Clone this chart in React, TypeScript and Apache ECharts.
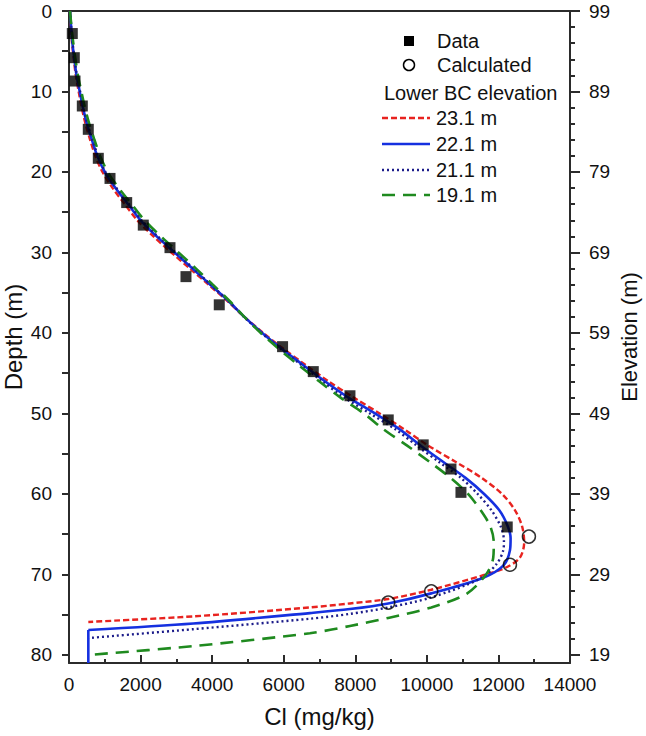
import React, { useEffect, useRef } from "react";
import * as echarts from "echarts";

// ---- data ----
const dataCl = [92, 148, 168, 372, 539, 819, 1146, 1612, 2076, 2822, 3269, 4199, 5968, 6826, 7851, 8921, 9898, 10673, 10953, 12246];
const dataDepth = [2.8, 5.8, 8.7, 11.8, 14.7, 18.3, 20.8, 23.8, 26.6, 29.4, 33.0, 36.5, 41.7, 44.8, 47.8, 50.8, 53.9, 56.9, 59.8, 64.1];

const calcCl = [12852, 12322, 10123, 8921];
const calcDepth = [65.3, 68.8, 72.1, 73.5];

// Lower BC elevation 23.1 m
const red231Cl = [28, 55, 85, 135, 190, 270, 355, 460, 590, 735, 935, 1220, 1560, 1910, 2360, 2860, 3380, 3900, 4420, 4900, 5430, 6000, 6620, 7250, 7950, 8680, 9380, 10040, 10800, 11530, 12100, 12460, 12660, 12720, 12601, 12229, 11576, 10123, 8921, 7851, 6733, 3500, 540];
const red231Depth = [0, 2, 4, 6, 8, 10, 12, 14, 16, 18, 20, 22, 24, 26, 28, 30, 32, 34, 36, 38, 40, 42, 44, 46, 48, 50, 52, 54, 56, 58, 60, 62, 64, 66, 67.9, 69.1, 70.1, 71.9, 73.05, 73.6, 74.1, 75.2, 75.9];

// Lower BC elevation 22.1 m
const blue221Cl = [28, 60, 95, 150, 210, 300, 390, 500, 640, 790, 1000, 1300, 1650, 2000, 2450, 2950, 3450, 3950, 4450, 4900, 5400, 5950, 6550, 7150, 7800, 8550, 9250, 9830, 10450, 11080, 11600, 12020, 12260, 12340, 12322, 12135, 11576, 10123, 8921, 7851, 6733, 3473, 540];
const blue221Depth = [0, 2, 4, 6, 8, 10, 12, 14, 16, 18, 20, 22, 24, 26, 28, 30, 32, 34, 36, 38, 40, 42, 44, 46, 48, 50, 52, 54, 56, 58, 60, 62, 64, 65.5, 67.0, 68.9, 70.4, 72.35, 73.6, 74.3, 74.8, 76.1, 76.9];
const blueBottomCl = [540, 540];
const blueBottomDepth = [76.9, 81];

// Lower BC elevation 21.1 m
const dot211Cl = [28, 62, 100, 158, 220, 310, 400, 515, 655, 810, 1020, 1325, 1680, 2030, 2480, 2980, 3480, 3960, 4450, 4890, 5380, 5920, 6500, 7080, 7680, 8410, 9130, 9720, 10330, 10950, 11420, 11800, 12060, 12154, 12135, 11948, 11500, 10123, 8921, 7851, 6733, 3473, 540];
const dot211Depth = [0, 2, 4, 6, 8, 10, 12, 14, 16, 18, 20, 22, 24, 26, 28, 30, 32, 34, 36, 38, 40, 42, 44, 46, 48, 50, 52, 54, 56, 58, 60, 62, 64, 65.8, 67.0, 68.7, 70.5, 72.85, 74.1, 74.9, 75.5, 76.8, 77.9];

// Lower BC elevation 19.1 m
const green191Cl = [28, 70, 120, 180, 250, 345, 445, 565, 710, 870, 1080, 1390, 1750, 2110, 2570, 3060, 3550, 4020, 4480, 4900, 5360, 5870, 6420, 6990, 7580, 8240, 8800, 9450, 10070, 10660, 11150, 11500, 11770, 11870, 11855, 11670, 11111, 10123, 8921, 7851, 6733, 3473, 540];
const green191Depth = [0, 2, 4, 6, 8, 10, 12, 14, 16, 18, 20, 22, 24, 26, 28, 30, 32, 34, 36, 38, 40, 42, 44, 46, 48, 50, 52, 54, 56, 58, 60, 62, 64, 66, 67.9, 69.9, 72.4, 74.1, 75.4, 76.4, 77.3, 78.9, 80.0];

const elevTop = 99;
const legendTitle = "Lower BC elevation";
const lineNames = ["23.1 m", "22.1 m", "21.1 m", "19.1 m"];

const FONT = '"Liberation Sans", Arial, Helvetica, sans-serif';
const AXIS = "#2b2b2b";
const TXT = "#111";

const zip = (a: number[], b: number[]) => a.map((v, i) => [v, b[i]]);

export default function App() {
  const ref = useRef<HTMLDivElement>(null);
  useEffect(() => {
    if (!ref.current) return;
    const chart = echarts.init(ref.current, null, { renderer: "svg" });
    const lineStyles = [
      { color: "#e8231f", width: 2.4, type: [6, 3] as any },
      { color: "#1530e0", width: 2.6, type: "solid" as any },
      { color: "#1c1c8a", width: 2.4, type: [2, 3] as any },
      { color: "#1f8a1f", width: 2.6, type: [13, 8] as any },
    ];
    const legendY = [118, 144, 170, 195];
    const tf = (t: string) => ({ text: t, font: `20px ${FONT}`, fill: TXT, verticalAlign: "middle", textVerticalAlign: "middle" });
    const graphic: any[] = [
      { type: "rect", shape: { x: 404, y: 36, width: 10, height: 10 }, style: { fill: "#000" } },
      { type: "circle", shape: { cx: 409, cy: 65, r: 5.5 }, style: { fill: "#fff", stroke: "#000", lineWidth: 1.5 } },
      { type: "text", x: 437, y: 41, style: tf("Data") },
      { type: "text", x: 437, y: 65, style: tf("Calculated") },
      { type: "text", x: 384, y: 93, style: tf(legendTitle) },
    ];
    lineNames.forEach((n, i) => {
      const ls = lineStyles[i];
      graphic.push({
        type: "line",
        shape: { x1: 382, y1: legendY[i], x2: 430, y2: legendY[i] },
        style: { stroke: ls.color, lineWidth: ls.width, lineDash: ls.type === "solid" ? null : ls.type },
      });
      graphic.push({ type: "text", x: 436, y: legendY[i], style: tf(n) });
    });

    const curves = [
      zip(red231Cl, red231Depth),
      zip(blue221Cl, blue221Depth),
      zip(dot211Cl, dot211Depth),
      zip(green191Cl, green191Depth),
    ];

    const series: any[] = curves.map((d, i) => ({
      type: "line",
      name: lineNames[i],
      data: d,
      smooth: 0.3,
      showSymbol: false,
      symbol: "none",
      lineStyle: lineStyles[i],
      z: 2,
    }));
    series.push({
      type: "line",
      data: zip(blueBottomCl, blueBottomDepth),
      showSymbol: false,
      symbol: "none",
      lineStyle: lineStyles[1],
      z: 2,
    });
    series.push({
      type: "scatter",
      name: "Data",
      data: zip(dataCl, dataDepth),
      symbol: "rect",
      symbolSize: 11,
      itemStyle: { color: "#000" },
      z: 3,
    });
    series.push({
      type: "scatter",
      name: "Calculated",
      data: zip(calcCl, calcDepth),
      symbol: "circle",
      symbolSize: 13,
      itemStyle: { color: "rgba(255,255,255,0)", borderColor: "#000", borderWidth: 1.5 },
      z: 4,
    });

    // grid 0: plot (depth 0..81); grid 1: tick helper (depth 0..80, same scale)
    const top = 11;
    const bottom0 = 73;
    const h0 = 736 - top - bottom0;
    const perUnit = h0 / 81;
    const bottom1 = 736 - top - perUnit * 80;

    const hiddenY = {
      type: "value",
      gridIndex: 1,
      inverse: true,
      min: 0,
      max: 80,
      axisLine: { show: false },
      splitLine: { show: false },
    };

    chart.setOption({
      animation: false,
      backgroundColor: "#fff",
      grid: [
        { left: 69, right: 76, top, bottom: bottom0, containLabel: false, outerBoundsMode: "none" },
        { left: 69, right: 76, top, bottom: bottom1, containLabel: false, outerBoundsMode: "none" },
      ],
      xAxis: [
        {
          type: "value",
          gridIndex: 0,
          position: "bottom",
          min: 0,
          max: 14000,
          interval: 2000,
          name: "Cl (mg/kg)",
          nameLocation: "middle",
          nameGap: 41,
          nameTextStyle: { fontSize: 24, fontFamily: FONT, color: TXT },
          axisLine: { show: true, onZero: false, lineStyle: { color: AXIS, width: 2 } },
          axisTick: { show: true, inside: true, length: 8, lineStyle: { color: AXIS, width: 2 } },
          minorTick: { show: true, splitNumber: 2, length: 4, lineStyle: { color: AXIS, width: 2 } },
          axisLabel: { fontSize: 19, fontFamily: FONT, color: TXT, margin: 12, formatter: (v: number) => String(v) },
          splitLine: { show: false },
        },
        {
          type: "value",
          gridIndex: 0,
          position: "top",
          min: 0,
          max: 14000,
          axisLine: { show: true, onZero: false, lineStyle: { color: AXIS, width: 2 } },
          axisTick: { show: false },
          axisLabel: { show: false },
          splitLine: { show: false },
        },
        {
          type: "value",
          gridIndex: 1,
          min: 0,
          max: 14000,
          show: false,
        },
      ],
      yAxis: [
        {
          type: "value",
          gridIndex: 0,
          position: "left",
          inverse: true,
          min: 0,
          max: 81,
          name: "Depth (m)",
          nameLocation: "middle",
          nameGap: 44,
          nameTextStyle: { fontSize: 24, fontFamily: FONT, color: TXT },
          axisLine: { show: true, onZero: false, lineStyle: { color: AXIS, width: 2 } },
          axisTick: { show: false },
          axisLabel: { show: false },
          splitLine: { show: false },
        },
        {
          type: "value",
          gridIndex: 0,
          position: "right",
          inverse: true,
          min: 0,
          max: 81,
          name: "Elevation (m)",
          nameLocation: "middle",
          nameGap: 48,
          nameTextStyle: { fontSize: 22, fontFamily: FONT, color: TXT },
          axisLine: { show: true, onZero: false, lineStyle: { color: AXIS, width: 2 } },
          axisTick: { show: false },
          axisLabel: { show: false },
          splitLine: { show: false },
        },
        {
          ...hiddenY,
          position: "left",
          interval: 5,
          axisTick: { show: true, inside: false, length: 7, lineStyle: { color: AXIS, width: 2 } },
          axisLabel: {
            fontSize: 19,
            fontFamily: FONT,
            color: TXT,
            margin: 17,
            formatter: (v: number) => (v % 10 === 0 ? String(v) : ""),
          },
        },
        {
          ...hiddenY,
          position: "right",
          interval: 10,
          axisTick: { show: true, inside: false, length: 10, lineStyle: { color: AXIS, width: 2 } },
          axisLabel: {
            fontSize: 19,
            fontFamily: FONT,
            color: TXT,
            margin: 19,
            formatter: (v: number) => String(elevTop - v),
          },
        },
        {
          ...hiddenY,
          position: "right",
          interval: 2,
          axisTick: { show: true, inside: false, length: 5, lineStyle: { color: AXIS, width: 2 } },
          axisLabel: { show: false },
        },
      ],
      graphic,
      series,
    });
    return () => chart.dispose();
  }, []);
  return <div ref={ref} style={{ position: "absolute", left: 0, top: 0, width: 646, height: 736 }} />;
}
